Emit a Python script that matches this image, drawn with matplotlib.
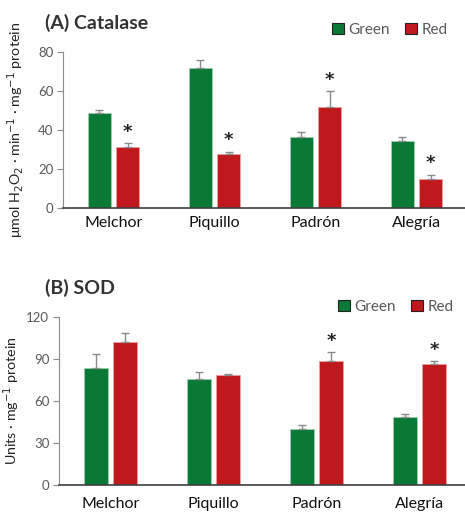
import numpy as np
import matplotlib
matplotlib.use("Agg")
import matplotlib.pyplot as plt
from matplotlib.patches import Patch

plt.rcParams['font.family'] = ['Lato', 'DejaVu Sans']

cultivars = ["Melchor", "Piquillo", "Padrón", "Alegría"]

# Catalase activity (mean and upper SE)
cat_green = [48.8, 72.0, 36.3, 34.3]
cat_green_err = [1.6, 3.8, 2.6, 2.1]
cat_red = [31.4, 27.9, 52.1, 15.0]
cat_red_err = [2.2, 1.1, 8.0, 2.2]
cat_sig = [True, True, True, True]

# SOD activity (mean and upper SE)
sod_green = [83.5, 75.8, 40.3, 48.9]
sod_green_err = [10.0, 4.8, 2.4, 2.2]
sod_red = [102.5, 78.9, 89.0, 86.6]
sod_red_err = [6.6, 0.5, 6.2, 2.4]
sod_sig = [False, False, True, True]

GREEN = "#087A36"
RED = "#C0191D"
GRID_GRAY = "#595959"


def panel(ax, green, gerr, red, rerr, sig, ymax, ystep, ylabel, title,
          label_pad, title_xy, legend_xy, ylabel_x):
    x = np.arange(len(cultivars)) + 0.5
    w = 0.23
    off = 0.14
    ekw = dict(ecolor="#8a8a8a", elinewidth=1.0, capsize=3.2, capthick=1.0)
    ax.bar(x - off, green, w, color=GREEN, edgecolor="#9fd0b0", linewidth=0.6,
           yerr=[np.zeros(len(gerr)), gerr], error_kw=ekw, zorder=2)
    ax.bar(x + off, red, w, color=RED, edgecolor="#eaa0a0", linewidth=0.6,
           yerr=[np.zeros(len(rerr)), rerr], error_kw=ekw, zorder=2)
    for xi, v, e, s in zip(x + off, red, rerr, sig):
        if s:
            ax.annotate("*", xy=(xi, v + e), xytext=(0, 1.5), textcoords="offset points",
                        ha="center", va="bottom", fontsize=13, fontweight="bold",
                        color="#222222", family="DejaVu Sans")
    ax.set_xlim(0, 4)
    ax.set_ylim(0, ymax)
    ax.set_yticks(np.arange(0, ymax + 1, ystep))
    ax.set_xticks(x)
    ax.set_xticklabels(cultivars, fontsize=11.5, color="#111111")
    ax.tick_params(axis="x", length=0, pad=label_pad)
    ax.tick_params(axis="y", length=4, width=0.8, color="#8a8a8a",
                   labelsize=9.5, labelcolor=GRID_GRAY, pad=3)
    for side in ("top", "right"):
        ax.spines[side].set_visible(False)
    ax.spines["left"].set_color("#8a8a8a")
    ax.spines["left"].set_linewidth(0.8)
    ax.spines["bottom"].set_color("#404040")
    ax.spines["bottom"].set_linewidth(1.2)
    ax.set_ylabel(ylabel, fontsize=10.3, color="#222222")
    ax.yaxis.set_label_coords(ylabel_x, 0.5)
    fig.text(title_xy[0], title_xy[1], title, fontsize=14, fontweight="bold",
             color="#333333", ha="left", va="center")
    handles = [Patch(facecolor=GREEN, edgecolor="#222222", linewidth=0.8),
               Patch(facecolor=RED, edgecolor="#222222", linewidth=0.8)]
    fig.legend(handles, ["Green", "Red"], loc="center right",
               bbox_to_anchor=legend_xy, ncol=2, frameon=False, fontsize=11,
               labelcolor=GRID_GRAY, handlelength=0.75, handleheight=0.75,
               handletextpad=0.3, columnspacing=1.0, borderpad=0)


fig = plt.figure(figsize=(4.65, 5.13), dpi=100)
W, H = 465, 513

ax1 = fig.add_axes([63 / W, 1 - 208 / H, 404 / W, (208 - 52.3) / H])
panel(ax1, cat_green, cat_green_err, cat_red, cat_red_err, cat_sig, 80, 20,
      r"μmol H$_2$O$_2$ · min$^{-1}$ · mg$^{-1}$ protein", "(A) Catalase",
      label_pad=6, title_xy=(45 / W, 1 - 23 / H), legend_xy=(455 / W, 1 - 30 / H),
      ylabel_x=-0.092)

ax2 = fig.add_axes([59 / W, 1 - 485 / H, 412 / W, (485 - 317.3) / H])
panel(ax2, sod_green, sod_green_err, sod_red, sod_red_err, sod_sig, 120, 30,
      r"Units · mg$^{-1}$ protein", "(B) SOD",
      label_pad=8.5, title_xy=(45 / W, 1 - 288 / H), legend_xy=(461 / W, 1 - 307 / H),
      ylabel_x=-0.09)

fig.savefig("out.png", dpi=100)
